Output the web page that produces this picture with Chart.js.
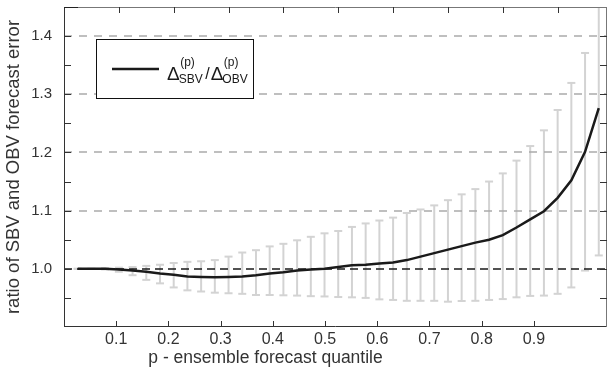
<!DOCTYPE html>
<html>
<head>
<meta charset="utf-8">
<script src="https://cdn.jsdelivr.net/npm/chart.js@4.4.1/dist/chart.umd.min.js"></script>
<style>
  html, body { margin: 0; padding: 0; background: #fff; }
  canvas { display: block; }
</style>
</head>
<body>
<canvas id="c" width="608" height="375"></canvas>
<script>
// ensemble forecast quantiles p
const quantiles = [0.025, 0.050, 0.075, 0.100, 0.125, 0.150, 0.175, 0.200, 0.225, 0.250,
                   0.275, 0.300, 0.325, 0.350, 0.375, 0.400, 0.425, 0.450, 0.475, 0.500,
                   0.525, 0.550, 0.575, 0.600, 0.625, 0.650, 0.675, 0.700, 0.725, 0.750,
                   0.775, 0.800, 0.825, 0.850, 0.875, 0.900, 0.925, 0.950, 0.975];
// ratio SBV / OBV of the p-quantile forecast error
const ratioMean = [1.000, 1.000, 1.000, 0.999, 0.997, 0.995, 0.992, 0.990, 0.987, 0.986,
                   0.9855, 0.986, 0.987, 0.989, 0.992, 0.994, 0.997, 0.999, 1.000, 1.003,
                   1.006, 1.007, 1.009, 1.011, 1.015, 1.021, 1.027, 1.033, 1.039, 1.045,
                   1.050, 1.058, 1.071, 1.085, 1.099, 1.122, 1.152, 1.201, 1.276];
// lower and upper ends of the error bars
const ratioLow  = [1.000, 1.000, 0.999, 0.995, 0.989, 0.981, 0.975, 0.968, 0.963, 0.961,
                   0.959, 0.958, 0.957, 0.955, 0.955, 0.9545, 0.954, 0.953, 0.9525, 0.9515,
                   0.951, 0.950, 0.9475, 0.9465, 0.945, 0.945, 0.945, 0.9435, 0.9447, 0.945,
                   0.9465, 0.948, 0.951, 0.9534, 0.954, 0.957, 0.968, 0.997, 1.023];
const ratioHigh = [1.000, 1.000, 1.001, 1.002, 1.003, 1.005, 1.007, 1.010, 1.012, 1.013,
                   1.015, 1.021, 1.028, 1.032, 1.0385, 1.043, 1.049, 1.055, 1.061, 1.065,
                   1.072, 1.078, 1.083, 1.088, 1.096, 1.102, 1.109, 1.118, 1.128, 1.137,
                   1.150, 1.164, 1.186, 1.211, 1.238, 1.273, 1.3195, 1.371, 1.52];

const xTickLabels = [0.1, 0.2, 0.3, 0.4, 0.5, 0.6, 0.7, 0.8, 0.9];
const yTickLabels = [1.0, 1.1, 1.2, 1.3, 1.4];
const yTickMarks  = [0.95, 1.0, 1.05, 1.1, 1.15, 1.2, 1.25, 1.3, 1.35, 1.4];
const gridLevels  = [1.1, 1.2, 1.3, 1.4];
const referenceLevel = 1.0;
const xTitle = 'p - ensemble forecast quantile';

const FONT = '"Liberation Sans", Arial, Helvetica, sans-serif';

function hLine(ctx, x1, x2, y) {
  ctx.beginPath(); ctx.moveTo(x1, y); ctx.lineTo(x2, y); ctx.stroke();
}
function vLine(ctx, x, y1, y2) {
  ctx.beginPath(); ctx.moveTo(x, y1); ctx.lineTo(x, y2); ctx.stroke();
}

// error bars, dashed grid and the 1.0 reference line, below the curve
const backdropPlugin = {
  id: 'backdrop',
  beforeDatasetsDraw(chart) {
    const { ctx, chartArea: a, scales } = chart;
    const xs = scales.x2, ys = scales.y;
    ctx.save();
    ctx.beginPath(); ctx.rect(a.left, a.top, a.right - a.left, a.bottom - a.top); ctx.clip();

    ctx.strokeStyle = '#d3d3d3';
    ctx.lineWidth = 2;
    quantiles.forEach((p, i) => {
      const x = xs.getPixelForValue(p);
      const yl = ys.getPixelForValue(ratioLow[i]);
      const yh = ys.getPixelForValue(ratioHigh[i]);
      vLine(ctx, x, yl, yh);
      hLine(ctx, x - 4, x + 4, yl);
      hLine(ctx, x - 4, x + 4, yh);
    });

    ctx.strokeStyle = '#aaaaaa';
    ctx.lineWidth = 1.5;
    ctx.setLineDash([8, 7]);
    gridLevels.forEach(v => {
      const y = Math.round(ys.getPixelForValue(v));
      hLine(ctx, a.left, a.right, y);
    });

    ctx.strokeStyle = '#1a1a1a';
    ctx.setLineDash([8, 5]);
    hLine(ctx, a.left, a.right, Math.round(ys.getPixelForValue(referenceLevel)));
    ctx.restore();
  }
};

// box, inward tick marks, x title and legend
const framePlugin = {
  id: 'frame',
  afterDraw(chart) {
    const { ctx, chartArea: a, scales } = chart;
    ctx.save();
    ctx.lineWidth = 1;
    ctx.strokeStyle = '#333';
    vLine(ctx, a.left + 0.5, a.top, a.bottom);
    hLine(ctx, a.left, a.right, a.bottom - 0.5);
    ctx.strokeStyle = '#777';
    hLine(ctx, a.left, a.right, a.top + 0.5);
    vLine(ctx, a.right - 0.5, a.top, a.bottom);
    ctx.strokeStyle = '#222';
    hLine(ctx, a.left, a.left + 14, a.top + 0.5);

    ctx.strokeStyle = '#333';
    yTickMarks.forEach(v => {
      const y = Math.round(scales.y.getPixelForValue(v)) + 0.5;
      hLine(ctx, a.left, a.left + 7, y);
      hLine(ctx, a.right - 7, a.right, y);
    });
    xTickLabels.forEach(v => {
      const xb = Math.round(scales.x.getPixelForValue(v)) + 0.5;
      vLine(ctx, xb, a.bottom - 6, a.bottom);
      const xt = Math.round(scales.x2.getPixelForValue(v)) + 0.5;
      vLine(ctx, xt, a.top, a.top + 6);
    });

    // x axis title
    ctx.fillStyle = '#333';
    ctx.font = '17.5px ' + FONT;
    ctx.textAlign = 'center';
    ctx.textBaseline = 'alphabetic';
    ctx.fillText(xTitle, 265.5, 363);

    // legend
    ctx.fillStyle = '#fff';
    ctx.fillRect(96, 39, 157, 59);
    ctx.strokeStyle = '#111';
    ctx.strokeRect(96.5, 39.5, 157, 59);
    ctx.strokeStyle = '#1a1a1a';
    ctx.lineWidth = 2.5;
    hLine(ctx, 112, 159, 69);

    ctx.fillStyle = '#1a1a1a';
    ctx.textAlign = 'left';
    const base = 80;
    const drawDelta = (x, sub) => {
      ctx.font = '19px ' + FONT;
      ctx.fillText('\u0394', x, base);
      const w = ctx.measureText('\u0394').width;
      ctx.font = '12px ' + FONT;
      ctx.fillText('(p)', x + w + 0.5, base - 14);
      ctx.fillText(sub, x + w - 1, base + 3);
      return x + w - 1 + Math.max(ctx.measureText(sub).width, ctx.measureText('(p)').width + 1.5);
    };
    let x = drawDelta(167, 'SBV');
    ctx.font = '16px ' + FONT;
    ctx.fillText('/', x + 2.5, base - 1);
    x += 2.5 + ctx.measureText('/').width + 1;
    drawDelta(x, 'OBV');
    ctx.restore();
  }
};

new Chart(document.getElementById('c'), {
  type: 'line',
  data: {
    datasets: [{
      label: 'ratio',
      xAxisID: 'x2',
      yAxisID: 'y',
      data: quantiles.map((p, i) => ({ x: p, y: ratioMean[i] })),
      borderColor: '#1a1a1a',
      borderWidth: 2.5,
      pointRadius: 0,
      tension: 0,
      fill: false
    }]
  },
  options: {
    responsive: false,
    animation: false,
    devicePixelRatio: 1,
    layout: { padding: { top: 7, right: 1, left: 0, bottom: 0 } },
    plugins: { legend: { display: false }, tooltip: { enabled: false } },
    scales: {
      x: {
        type: 'linear',
        position: 'bottom',
        min: 0, max: 1.04,
        grid: { display: false, drawTicks: false },
        border: { display: false },
        afterBuildTicks: s => { s.ticks = xTickLabels.map(v => ({ value: v })); },
        afterFit: s => { s.height = 48; s.paddingLeft = 0; s.paddingRight = 0; },
        ticks: {
          padding: 3,
          color: '#333',
          font: { family: FONT, size: 16 },
          callback: v => v.toFixed(1)
        }
      },
      x2: {
        type: 'linear',
        position: 'top',
        display: false,
        min: 0, max: 0.99
      },
      y: {
        type: 'linear',
        position: 'left',
        min: 0.9, max: 1.45,
        grid: { display: false, drawTicks: false },
        border: { display: false },
        afterBuildTicks: s => { s.ticks = yTickLabels.map(v => ({ value: v })); },
        afterFit: s => { s.width = 64; s.paddingTop = 0; s.paddingBottom = 0; },
        ticks: {
          padding: 12,
          color: '#333',
          font: { family: FONT, size: 15 },
          callback: v => v.toFixed(1)
        },
        title: {
          display: true,
          text: 'ratio of SBV and OBV forecast error',
          color: '#333',
          font: { family: FONT, size: 18.5 },
          padding: { top: 3, bottom: 0 }
        }
      }
    }
  },
  plugins: [backdropPlugin, framePlugin]
});
</script>
</body>
</html>
